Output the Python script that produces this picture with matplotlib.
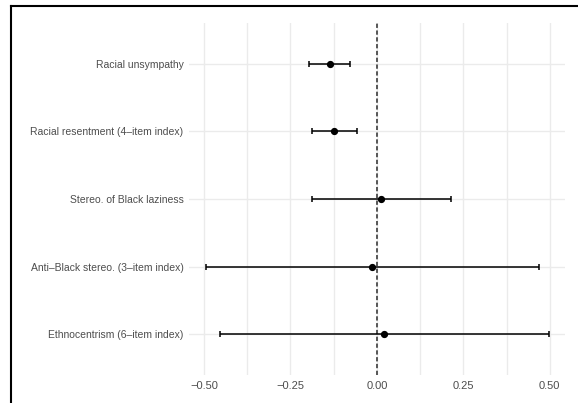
import numpy as np
import matplotlib.pyplot as plt
from matplotlib.lines import Line2D

plt.rcParams['font.family'] = ['Liberation Sans', 'DejaVu Sans']

# coefficient estimates with 95% intervals, top row first
labels = ["Racial unsympathy",
          "Racial resentment (4\u2013item index)",
          "Stereo. of Black laziness",
          "Anti\u2013Black stereo. (3\u2013item index)",
          "Ethnocentrism (6\u2013item index)"]
est = [-0.135, -0.123, 0.0125, -0.013, 0.021]
lo = [-0.195, -0.187, -0.187, -0.495, -0.453]
hi = [-0.077, -0.058, 0.214, 0.469, 0.497]

fig = plt.figure(figsize=(5.78, 4.03), dpi=100)
ax = fig.add_axes([0.327, 0.0695, 0.6505, 0.8735])

ypos = np.arange(len(labels))[::-1] + 1
est = np.array(est)
err = [est - np.array(lo), np.array(hi) - est]

ax.axvline(0, color='#555555', lw=1.4, ls=(0, (2.2, 1.3)), zorder=2)
ax.errorbar(est, ypos, xerr=err, fmt='o', color='black', ms=4.2,
            elinewidth=1.1, capsize=2.3, capthick=1.1, zorder=3)

ax.set_xlim(-0.543, 0.544)
ax.set_ylim(0.4, 5.6)
ax.set_xticks([-0.5, -0.25, 0, 0.25, 0.5])
ax.set_xticklabels(["\u22120.50", "\u22120.25", "0.00", "0.25", "0.50"])
ax.set_xticks([-0.375, -0.125, 0.125, 0.375], minor=True)
ax.set_yticks(ypos)
ax.set_yticklabels(labels)

ax.grid(True, which='major', color='#EBEBEB', lw=1.0, zorder=0)
ax.grid(True, which='minor', axis='x', color='#EBEBEB', lw=1.0, zorder=0)
ax.set_axisbelow(True)
ax.tick_params(which='both', length=0, labelcolor='#4D4D4D', pad=4)
ax.tick_params(axis='y', labelsize=7.5)
ax.tick_params(axis='x', labelsize=8.0)
for s in ax.spines.values():
    s.set_visible(False)

# outer frame (left and top edges)
W, H = 578, 403
fig.add_artist(Line2D([10.5 / W, 10.5 / W], [0, 1 - 6 / H], color='black', lw=1.5,
                      transform=fig.transFigure))
fig.add_artist(Line2D([10.5 / W, 1], [1 - 6 / H, 1 - 6 / H], color='black', lw=1.5,
                      transform=fig.transFigure))

fig.savefig("out.png", dpi=100)
